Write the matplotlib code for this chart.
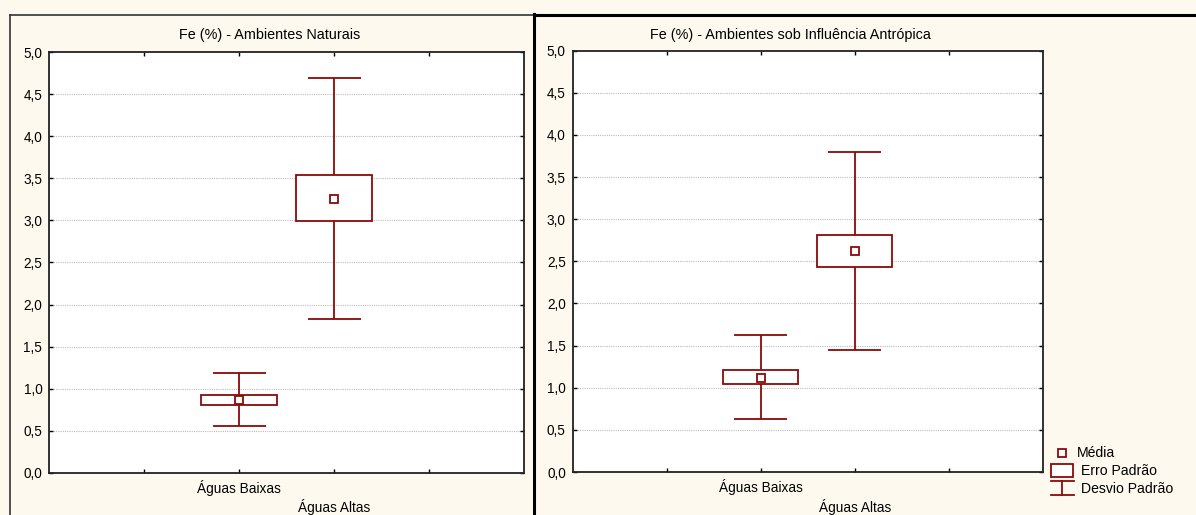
import matplotlib
matplotlib.use('Agg')
import matplotlib.pyplot as plt
from matplotlib.lines import Line2D
from matplotlib.patches import Rectangle

plt.rcParams['font.family'] = ['Liberation Sans', 'DejaVu Sans']

# ---------------- data ----------------
categories = ['Águas Baixas', 'Águas Altas']
cat_pos = [2, 3]

nat_mean = [0.87, 3.26]
nat_se_lo = [0.80, 2.99]
nat_se_hi = [0.93, 3.54]
nat_sd_lo = [0.56, 1.83]
nat_sd_hi = [1.18, 4.69]

ant_mean = [1.12, 2.62]
ant_se_lo = [1.04, 2.43]
ant_se_hi = [1.21, 2.81]
ant_sd_lo = [0.63, 1.45]
ant_sd_hi = [1.62, 3.80]

titles = ['Fe (%) - Ambientes Naturais', 'Fe (%) - Ambientes sob Influência Antrópica']
yticks = [0.0, 0.5, 1.0, 1.5, 2.0, 2.5, 3.0, 3.5, 4.0, 4.5, 5.0]
legend_labels = ['Média', 'Erro Padrão', 'Desvio Padrão']

# ---------------- style ----------------
W, H = 1196, 515
RED = '#8b0a0a'
BG = '#fdf9ee'
FS = 9.8
FS_T = 10.4
FS_L = 10.1


def fx(x):
    return x / W


def fy(y):
    return 1 - y / H


fig = plt.figure(figsize=(W / 100, H / 100), dpi=100, facecolor=BG)


def panel(rect, mean, se_lo, se_hi, sd_lo, sd_hi):
    ax = fig.add_axes(rect)
    ax.set_facecolor('white')
    ax.set_xlim(0, 5)
    ax.set_ylim(0, 5)
    ax.set_yticks(yticks)
    ax.set_yticklabels([f'{v:.1f}'.replace('.', ',') for v in yticks])
    ax.set_xticks([1, 2, 3, 4])
    ax.set_xticklabels(['', categories[0], '\n' + categories[1], ''], linespacing=1.45)
    ax.tick_params(axis='both', direction='in', length=3, width=1,
                   top=True, right=True, labelsize=FS, pad=5, colors='black')
    for s in ax.spines.values():
        s.set_linewidth(1.3)
        s.set_color('#222222')
    for v in yticks[1:-1]:
        ax.axhline(v, color='#bdbdbd', lw=0.8, ls=(0, (1, 1)), zorder=0)
    bw, cw = 0.40, 0.28
    for x, m, a, b, c, d in zip(cat_pos, mean, se_lo, se_hi, sd_lo, sd_hi):
        ax.bar(x, b - a, bottom=a, width=2 * bw, facecolor='white',
               edgecolor=RED, linewidth=1.3, zorder=3)
        ax.vlines(x, c, a, color=RED, lw=1.3, zorder=3)
        ax.vlines(x, b, d, color=RED, lw=1.3, zorder=3)
        ax.hlines([c, d], x - cw, x + cw, color=RED, lw=1.3, zorder=3)
        ax.plot([x], [m], marker='s', ms=5.3, mfc='white', mec=RED,
                mew=1.3, zorder=4)
    return ax


axL = panel([fx(49.3), fy(472.7), fx(524 - 49.3), (472.7 - 52.3) / H],
            nat_mean, nat_se_lo, nat_se_hi, nat_sd_lo, nat_sd_hi)
axR = panel([fx(572.7), fy(472), fx(1042.7 - 572.7), (472 - 50.7) / H],
            ant_mean, ant_se_lo, ant_se_hi, ant_sd_lo, ant_sd_hi)

# titles
fig.text(fx(270), fy(35), titles[0], ha='center', va='center', fontsize=FS_T)
fig.text(fx(790), fy(35), titles[1], ha='center', va='center', fontsize=FS_T)

# panel frames
tf = fig.transFigure
fig.add_artist(Line2D([fx(10), fx(10)], [fy(15), fy(520)], transform=tf,
                      color='#333333', lw=1.2))
fig.add_artist(Line2D([fx(10), fx(533)], [fy(15.3), fy(15.3)], transform=tf,
                      color='#333333', lw=1.2))
fig.add_artist(Line2D([fx(533.5), fx(533.5)], [fy(14.5), fy(520)], transform=tf,
                      color='black', lw=2.2))
fig.add_artist(Line2D([fx(533.5), fx(1200)], [fy(14.7), fy(14.7)], transform=tf,
                      color='black', lw=2.2))

# legend
fig.add_artist(Line2D([fx(1062)], [fy(453)], transform=tf, marker='s', ms=5.3,
                      mfc='white', mec=RED, mew=1.3, ls='none'))
fig.text(fx(1077), fy(453), legend_labels[0], ha='left', va='center', fontsize=FS_L)
fig.add_artist(Rectangle((fx(1050.7), fy(477)), fx(1073.3 - 1050.7), (477 - 464) / H,
                         transform=tf, facecolor='white', edgecolor=RED, lw=1.3))
fig.text(fx(1081), fy(471), legend_labels[1], ha='left', va='center', fontsize=FS_L)
fig.add_artist(Line2D([fx(1062), fx(1062)], [fy(481), fy(495)], transform=tf,
                      color=RED, lw=1.3))
fig.add_artist(Line2D([fx(1050.5), fx(1073.5)], [fy(481), fy(481)], transform=tf,
                      color=RED, lw=1.3))
fig.add_artist(Line2D([fx(1050.5), fx(1073.5)], [fy(495), fy(495)], transform=tf,
                      color=RED, lw=1.3))
fig.text(fx(1081), fy(489), legend_labels[2], ha='left', va='center', fontsize=FS_L)

fig.savefig('out.png', dpi=100, facecolor=BG)
